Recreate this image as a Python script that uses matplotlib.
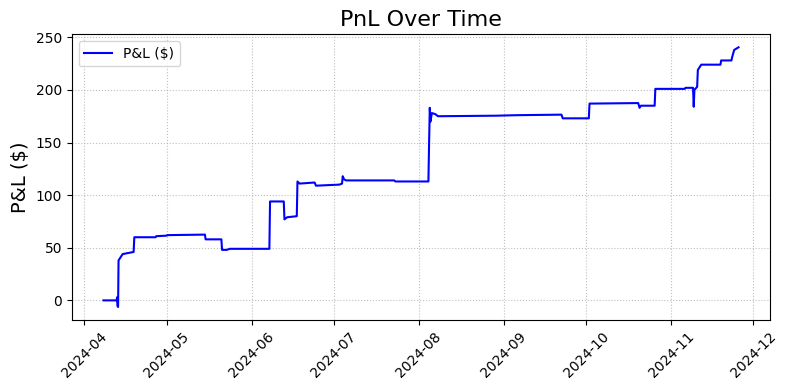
import pandas as pd
import matplotlib
matplotlib.use("Agg")
import matplotlib.pyplot as plt

timestamps = [
    "2024-04-08 00:00", "2024-04-12 18:00", "2024-04-13 00:00", "2024-04-13 02:00",
    "2024-04-13 08:00", "2024-04-13 12:00", "2024-04-14 00:00", "2024-04-15 00:00",
    "2024-04-17 00:00", "2024-04-19 00:00", "2024-04-19 06:00", "2024-04-27 00:00",
    "2024-04-27 06:00", "2024-05-01 00:00", "2024-05-01 06:00", "2024-05-15 00:00",
    "2024-05-15 06:00", "2024-05-21 00:00", "2024-05-21 06:00", "2024-05-23 00:00",
    "2024-05-24 00:00", "2024-06-07 12:00", "2024-06-07 18:00", "2024-06-12 18:00",
    "2024-06-13 00:00", "2024-06-14 00:00", "2024-06-17 12:00", "2024-06-17 18:00",
    "2024-06-18 12:00", "2024-06-24 00:00", "2024-06-24 12:00", "2024-07-03 00:00",
    "2024-07-04 00:00", "2024-07-04 06:00", "2024-07-04 18:00", "2024-07-05 12:00",
    "2024-07-23 00:00", "2024-07-23 12:00", "2024-08-04 12:00", "2024-08-04 18:00",
    "2024-08-05 00:00", "2024-08-05 06:00", "2024-08-05 18:00", "2024-08-07 00:00",
    "2024-08-08 00:00", "2024-08-29 00:00", "2024-09-06 00:00", "2024-09-22 00:00",
    "2024-09-22 12:00", "2024-10-02 00:00", "2024-10-02 06:00", "2024-10-20 00:00",
    "2024-10-20 12:00", "2024-10-21 00:00", "2024-10-26 00:00", "2024-10-26 06:00",
    "2024-11-06 00:00", "2024-11-06 06:00", "2024-11-09 00:00", "2024-11-09 06:00",
    "2024-11-09 12:00", "2024-11-10 12:00", "2024-11-10 18:00", "2024-11-11 12:00",
    "2024-11-12 00:00", "2024-11-19 00:00", "2024-11-19 06:00", "2024-11-23 00:00",
    "2024-11-23 06:00", "2024-11-24 00:00", "2024-11-25 14:00",
]
pnl = [
    0, 0, 3, -5,
    -6.3, 38, 40, 44,
    45, 46, 60, 60,
    61, 61.5, 62, 62.5,
    58, 58, 48, 48,
    49, 49, 94, 94,
    77, 79, 80, 113,
    111, 112, 109, 110,
    111, 118, 115, 114,
    114, 113, 113, 150,
    183, 170, 178, 177,
    175, 175.5, 176, 176.5,
    173, 173, 187, 187.5,
    183, 185, 185, 201,
    201, 202, 202, 184,
    200, 203, 219, 222,
    224, 224, 228, 228,
    231, 238, 240.5,
]

times = pd.to_datetime(timestamps)

fig, ax = plt.subplots(figsize=(7.88, 3.9), dpi=100)
ax.plot(times, pnl, color="blue", label="P&L ($)")
ax.set_title("PnL Over Time", fontsize=16)
ax.set_ylabel("P&L ($)", fontsize=14)
ax.grid(True, linestyle=":", alpha=0.8)
ax.legend(loc="upper left")
plt.xticks(rotation=45)
fig.subplots_adjust(left=0.091, right=0.9775, top=0.912, bottom=0.1795)
plt.savefig("out.png")
